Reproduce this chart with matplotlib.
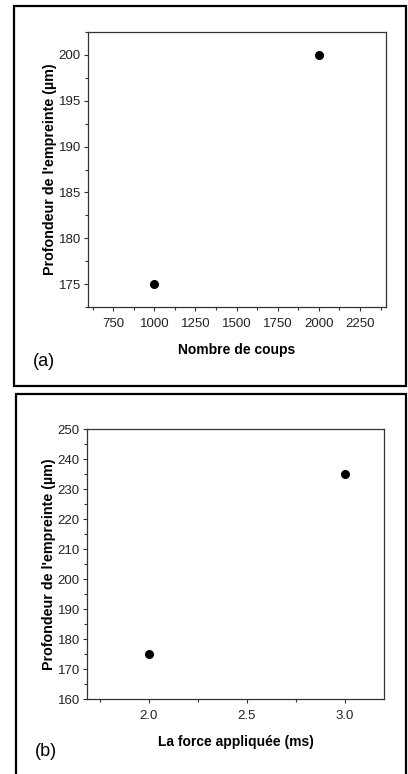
import matplotlib
matplotlib.use("Agg")
import matplotlib.pyplot as plt
from matplotlib.patches import Rectangle
from matplotlib.ticker import MultipleLocator

plt.rcParams['font.family'] = ['Liberation Sans', 'DejaVu Sans']

# panel (a)
coups = [1000, 2000]
prof_a = [175, 200]
# panel (b)
force = [2.0, 3.0]
prof_b = [175, 235]

W, H = 408, 774
fig = plt.figure(figsize=(W / 100, H / 100), dpi=100)


def px_axes(l, t, r, b):
    return fig.add_axes([l / W, 1 - b / H, (r - l) / W, (b - t) / H])


def frame(l, t, r, b):
    fig.patches.append(Rectangle((l / W, 1 - b / H), (r - l) / W, (b - t) / H,
                                 transform=fig.transFigure, fill=False,
                                 edgecolor='black', linewidth=1.6))


def style(ax):
    for s in ax.spines.values():
        s.set_color('#333333')
        s.set_linewidth(0.9)
    ax.tick_params(which='both', direction='out', color='#333333',
                   labelsize=9.5, labelcolor='#222222', width=0.8)
    ax.tick_params(which='major', length=3.2)
    ax.tick_params(which='minor', length=2.2)
    ax.tick_params(axis='x', which='major', pad=5)
    ax.tick_params(axis='y', which='major', pad=2)


frame(14, 6, 406, 386)
frame(16, 394, 406, 790)

ax1 = px_axes(88, 32, 386, 307)
ax1.plot(coups, prof_a, 'o', color='black', ms=5.5)
ax1.set_xlim(597, 2408)
ax1.set_ylim(172.5, 202.5)
ax1.xaxis.set_major_locator(MultipleLocator(250))
ax1.xaxis.set_minor_locator(MultipleLocator(125))
ax1.yaxis.set_major_locator(MultipleLocator(5))
ax1.yaxis.set_minor_locator(MultipleLocator(2.5))
style(ax1)
ax1.set_xlabel('Nombre de coups', fontsize=10, fontweight='bold', labelpad=9)
ax1.set_ylabel("Profondeur de l'empreinte (µm)", fontsize=10.3,
               fontweight='bold', labelpad=1)
fig.text(33 / W, 1 - 362 / H, '(a)', fontsize=13, va='center', ha='left')

ax2 = px_axes(87, 429, 384, 699)
ax2.plot(force, prof_b, 'o', color='black', ms=5.5)
ax2.set_xlim(1.685, 3.2)
ax2.set_ylim(160, 250)
ax2.xaxis.set_major_locator(MultipleLocator(0.5))
ax2.xaxis.set_minor_locator(MultipleLocator(0.25))
ax2.yaxis.set_major_locator(MultipleLocator(10))
ax2.yaxis.set_minor_locator(MultipleLocator(5))
style(ax2)
ax2.set_xlabel('La force appliquée (ms)', fontsize=10, fontweight='bold',
               labelpad=9)
ax2.set_ylabel("Profondeur de l'empreinte (µm)", fontsize=10.3,
               fontweight='bold', labelpad=1)
fig.text(35 / W, 1 - 752 / H, '(b)', fontsize=13, va='center', ha='left')

fig.savefig('out.png', dpi=100)
